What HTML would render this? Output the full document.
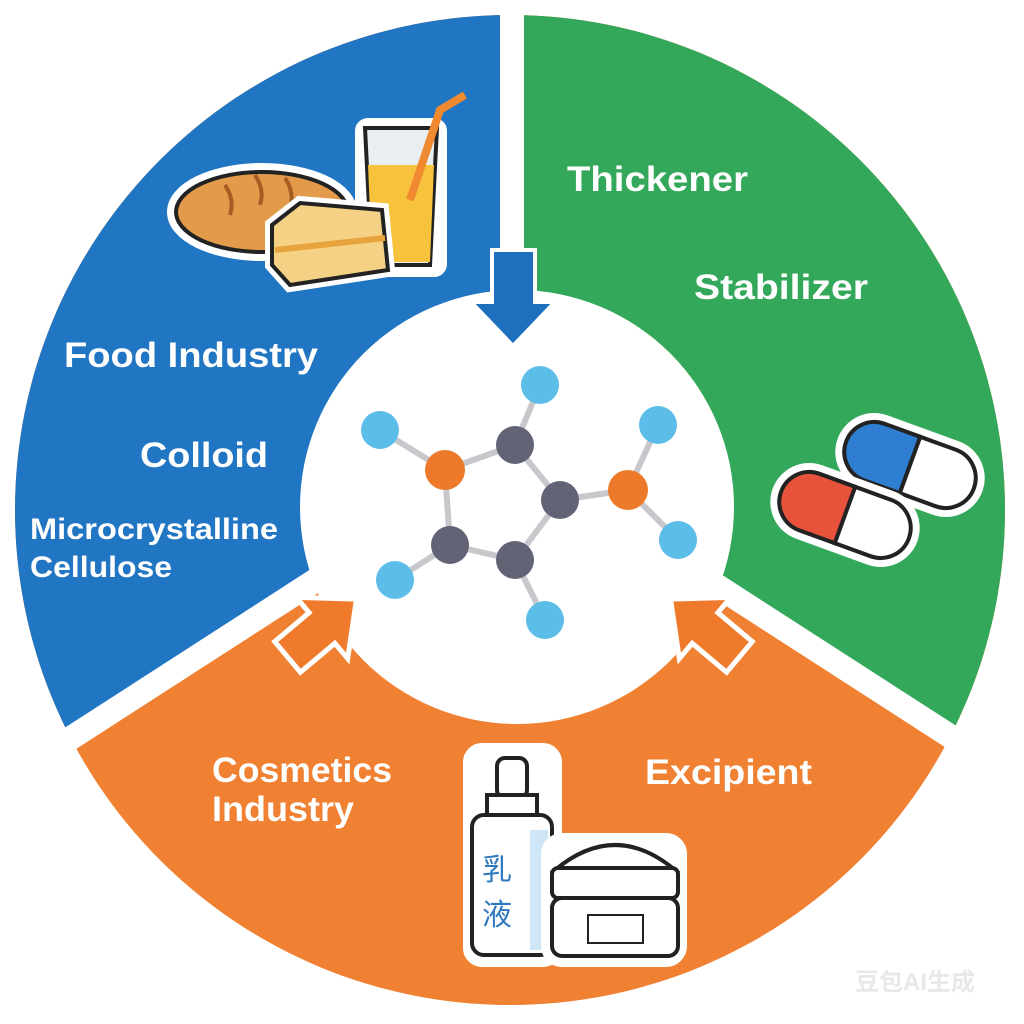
<!DOCTYPE html>
<html><head><meta charset="utf-8"><style>
html,body{margin:0;padding:0;background:#fff;}
svg{display:block}
text{font-family:"Liberation Sans","Noto Sans CJK SC",sans-serif;}
</style></head><body>
<svg width="1024" height="1024" viewBox="0 0 1024 1024" xmlns="http://www.w3.org/2000/svg">
<defs><clipPath id="c"><circle cx="510" cy="510" r="495"/></clipPath></defs>
<g clip-path="url(#c)">
<rect x="0" y="0" width="1024" height="1024" fill="#f08132"/>
<polygon points="512,-10 -10,-10 -10,790 512,453" fill="#2176c3"/>
<polygon points="512,-10 1034,-10 1034,790 512,453" fill="#33a85a"/>
</g>
<line x1="512" y1="0" x2="512" y2="320" stroke="#fff" stroke-width="24"/>
<line x1="330" y1="571" x2="40" y2="758" stroke="#fff" stroke-width="24"/>
<line x1="694" y1="571" x2="984" y2="758" stroke="#fff" stroke-width="24"/>
<circle cx="517" cy="507" r="217" fill="#fff"/>
<polygon points="492,250 535,250 535,302 555,302 513,346 471,302 492,302" fill="#1f6fbf" stroke="#fff" stroke-width="4"/>
<g transform="translate(322,628) rotate(-40)"><polygon points="-45,-20 0,-20 0,-40 45,0 0,40 0,20 -45,20" fill="#f07a2c" stroke="#fff" stroke-width="5"/></g>
<g transform="translate(705,628) rotate(-140)"><polygon points="-45,-20 0,-20 0,-40 45,0 0,40 0,20 -45,20" fill="#f07a2c" stroke="#fff" stroke-width="5"/></g>
<g stroke="#c8c8cc" stroke-width="6" stroke-linecap="round">
<line x1="445" y1="470" x2="515" y2="445"/><line x1="515" y1="445" x2="560" y2="500"/><line x1="560" y1="500" x2="515" y2="560"/><line x1="515" y1="560" x2="450" y2="545"/><line x1="450" y1="545" x2="445" y2="470"/>
<line x1="380" y1="430" x2="445" y2="470"/><line x1="540" y1="385" x2="515" y2="445"/><line x1="560" y1="500" x2="628" y2="490"/><line x1="628" y1="490" x2="658" y2="425"/><line x1="628" y1="490" x2="678" y2="540"/><line x1="450" y1="545" x2="395" y2="580"/><line x1="515" y1="560" x2="545" y2="620"/>
</g>
<g fill="#626375"><circle cx="515" cy="445" r="19"/><circle cx="560" cy="500" r="19"/><circle cx="515" cy="560" r="19"/><circle cx="450" cy="545" r="19"/></g>
<g fill="#ec7a2a"><circle cx="445" cy="470" r="20"/><circle cx="628" cy="490" r="20"/></g>
<g fill="#5bbde8"><circle cx="540" cy="385" r="19"/><circle cx="380" cy="430" r="19"/><circle cx="658" cy="425" r="19"/><circle cx="678" cy="540" r="19"/><circle cx="395" cy="580" r="19"/><circle cx="545" cy="620" r="19"/></g>
<g stroke="#222" stroke-width="4">
<rect x="362" y="125" width="78" height="145" rx="6" fill="#fff" stroke="#fff" stroke-width="14"/>
<path d="M365,128 L437,128 L430,265 L372,265 Z" fill="#e8eef2"/>
<path d="M368,165 L434,165 L430,262 L372,262 Z" fill="#f7c23c" stroke="none"/>
<path d="M410,200 L440,110 L465,95" fill="none" stroke="#f08a30" stroke-width="8"/>
<ellipse cx="262" cy="212" rx="88" ry="42" fill="#e39a4b" stroke="#fff" stroke-width="14"/>
<ellipse cx="262" cy="212" rx="86" ry="40" fill="#e39a4b"/>
<path d="M225,185 q10,15 5,30 M255,175 q10,15 5,30 M285,178 q10,15 5,30" fill="none" stroke="#a45d22"/>
<path d="M272,225 L300,203 L382,210 L388,270 L290,285 L272,265 Z" fill="#f5d185" stroke="#fff" stroke-width="14"/>
<path d="M272,225 L300,203 L382,210 L388,270 L290,285 L272,265 Z" fill="#f5d185"/>
<path d="M275,250 L385,238" stroke="#e7a33c" stroke-width="6"/>
</g>
<g stroke="#222" stroke-width="4">
<g transform="translate(910,465) rotate(20)"><rect x="-70" y="-32" width="140" height="64" rx="32" fill="#fff" stroke="#fff" stroke-width="14"/><path d="M0,-30 L-38,-30 A30,30 0 0 0 -38,30 L0,30 Z" fill="#2e7fd2"/><path d="M0,-30 L38,-30 A30,30 0 0 1 38,30 L0,30 Z" fill="#fff"/></g>
<g transform="translate(845,515) rotate(20)"><rect x="-70" y="-32" width="140" height="64" rx="32" fill="#fff" stroke="#fff" stroke-width="14"/><path d="M0,-30 L-38,-30 A30,30 0 0 0 -38,30 L0,30 Z" fill="#e8523a"/><path d="M0,-30 L38,-30 A30,30 0 0 1 38,30 L0,30 Z" fill="#fff"/></g>
</g>
<g stroke="#222" stroke-width="4">
<rect x="470" y="750" width="85" height="210" rx="12" fill="#fff" stroke="#fff" stroke-width="14"/>
<rect x="497" y="758" width="30" height="40" rx="8" fill="#fff"/>
<rect x="487" y="795" width="50" height="22" fill="#fff"/>
<rect x="472" y="815" width="80" height="140" rx="12" fill="#fff"/>
<rect x="530" y="830" width="18" height="120" fill="#cfe6f6" stroke="none"/>
<rect x="548" y="840" width="132" height="120" rx="14" fill="#fff" stroke="#fff" stroke-width="14"/>
<path d="M555,870 q60,-50 120,0 Z" fill="#fff"/>
<rect x="552" y="868" width="126" height="30" rx="6" fill="#fff"/>
<rect x="552" y="898" width="126" height="58" rx="10" fill="#fff"/>
<rect x="588" y="915" width="55" height="28" fill="#fff" stroke-width="2"/>
</g>
<text x="482" y="880" font-size="30" fill="#2f79c0">乳</text>
<text x="482" y="925" font-size="30" fill="#2f79c0">液</text>
<g fill="#fff" font-weight="bold">
<text x="64" y="367" font-size="35" textLength="254" lengthAdjust="spacingAndGlyphs">Food Industry</text>
<text x="140" y="467" font-size="35" textLength="128" lengthAdjust="spacingAndGlyphs">Colloid</text>
<text x="30" y="539" font-size="30" textLength="248" lengthAdjust="spacingAndGlyphs">Microcrystalline</text>
<text x="30" y="577" font-size="30" textLength="142" lengthAdjust="spacingAndGlyphs">Cellulose</text>
<text x="567" y="191" font-size="35" textLength="181" lengthAdjust="spacingAndGlyphs">Thickener</text>
<text x="694" y="299" font-size="35" textLength="174" lengthAdjust="spacingAndGlyphs">Stabilizer</text>
<text x="212" y="782" font-size="35" textLength="180" lengthAdjust="spacingAndGlyphs">Cosmetics</text>
<text x="212" y="821" font-size="35" textLength="142" lengthAdjust="spacingAndGlyphs">Industry</text>
<text x="645" y="784" font-size="35" textLength="167" lengthAdjust="spacingAndGlyphs">Excipient</text>
</g>
<text x="855" y="990" font-size="24" fill="#e8e8e8" font-weight="bold">豆包AI生成</text>
</svg>
</body></html>
